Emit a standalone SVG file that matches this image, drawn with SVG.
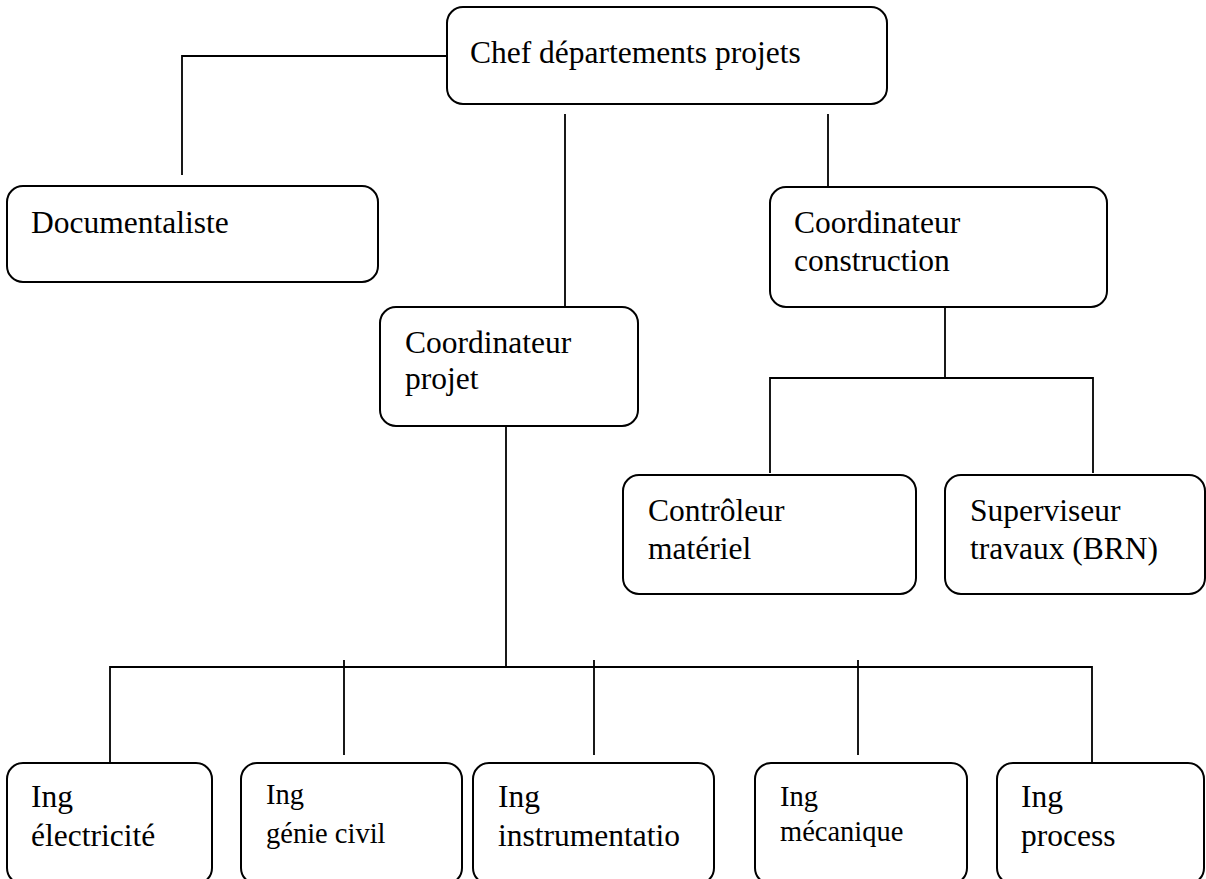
<svg xmlns="http://www.w3.org/2000/svg" width="1206" height="879" viewBox="0 0 1206 879">
<style>
.box{fill:#fff;stroke:#000;stroke-width:2}
.ln{fill:none;stroke:#000;stroke-width:1.8}
text{font-family:"Liberation Serif","Times New Roman",serif;font-size:31.5px;fill:#000}
.sm{font-size:28.5px}
</style>
<rect width="1206" height="879" fill="#fff"/>
<g id="connectors" class="ln">
<polyline points="447,56 182,56 182,175"/>
<line x1="565" y1="114" x2="565" y2="306"/>
<line x1="828" y1="114" x2="828" y2="186"/>
<line x1="945" y1="307" x2="945" y2="378"/>
<polyline points="770,473 770,378 1093,378 1093,473"/>
<line x1="506" y1="426" x2="506" y2="667"/>
<polyline points="110,762 110,667 1092,667 1092,762"/>
<line x1="344" y1="660" x2="344" y2="755"/>
<line x1="594" y1="660" x2="594" y2="755"/>
<line x1="858" y1="660" x2="858" y2="755"/>
</g>
<g id="chef"><rect class="box" x="447" y="7" width="440" height="97" rx="16"/><text x="470" y="63">Chef départements projets</text></g>
<g id="documentaliste"><rect class="box" x="7" y="186" width="371" height="96" rx="16"/><text x="31" y="233">Documentaliste</text></g>
<g id="coord-projet"><rect class="box" x="380" y="307" width="258" height="119" rx="16"/><text x="405" y="353">Coordinateur</text><text x="405" y="389">projet</text></g>
<g id="coord-construction"><rect class="box" x="770" y="187" width="337" height="120" rx="16"/><text x="794" y="233">Coordinateur</text><text x="794" y="271">construction</text></g>
<g id="controleur"><rect class="box" x="623" y="475" width="293" height="119" rx="16"/><text x="648" y="521">Contrôleur</text><text x="648" y="559">matériel</text></g>
<g id="superviseur"><rect class="box" x="945" y="475" width="260" height="119" rx="16"/><text x="970" y="521">Superviseur</text><text x="970" y="559">travaux (BRN)</text></g>
<g id="ing-elec"><rect class="box" x="7" y="763" width="205" height="121" rx="16"/><text x="31" y="807">Ing</text><text x="31" y="846">électricité</text></g>
<g id="ing-genie"><rect class="box" x="241" y="763" width="221" height="121" rx="16"/><text class="sm" x="266" y="804">Ing</text><text class="sm" x="266" y="843">génie civil</text></g>
<g id="ing-instru"><rect class="box" x="473" y="763" width="241" height="121" rx="16"/><text x="498" y="807">Ing</text><text x="498" y="846">instrumentatio</text></g>
<g id="ing-meca"><rect class="box" x="755" y="763" width="212" height="121" rx="16"/><text class="sm" x="780" y="806">Ing</text><text class="sm" x="780" y="841">mécanique</text></g>
<g id="ing-process"><rect class="box" x="997" y="763" width="207" height="121" rx="16"/><text x="1021" y="807">Ing</text><text x="1021" y="846">process</text></g>
</svg>
